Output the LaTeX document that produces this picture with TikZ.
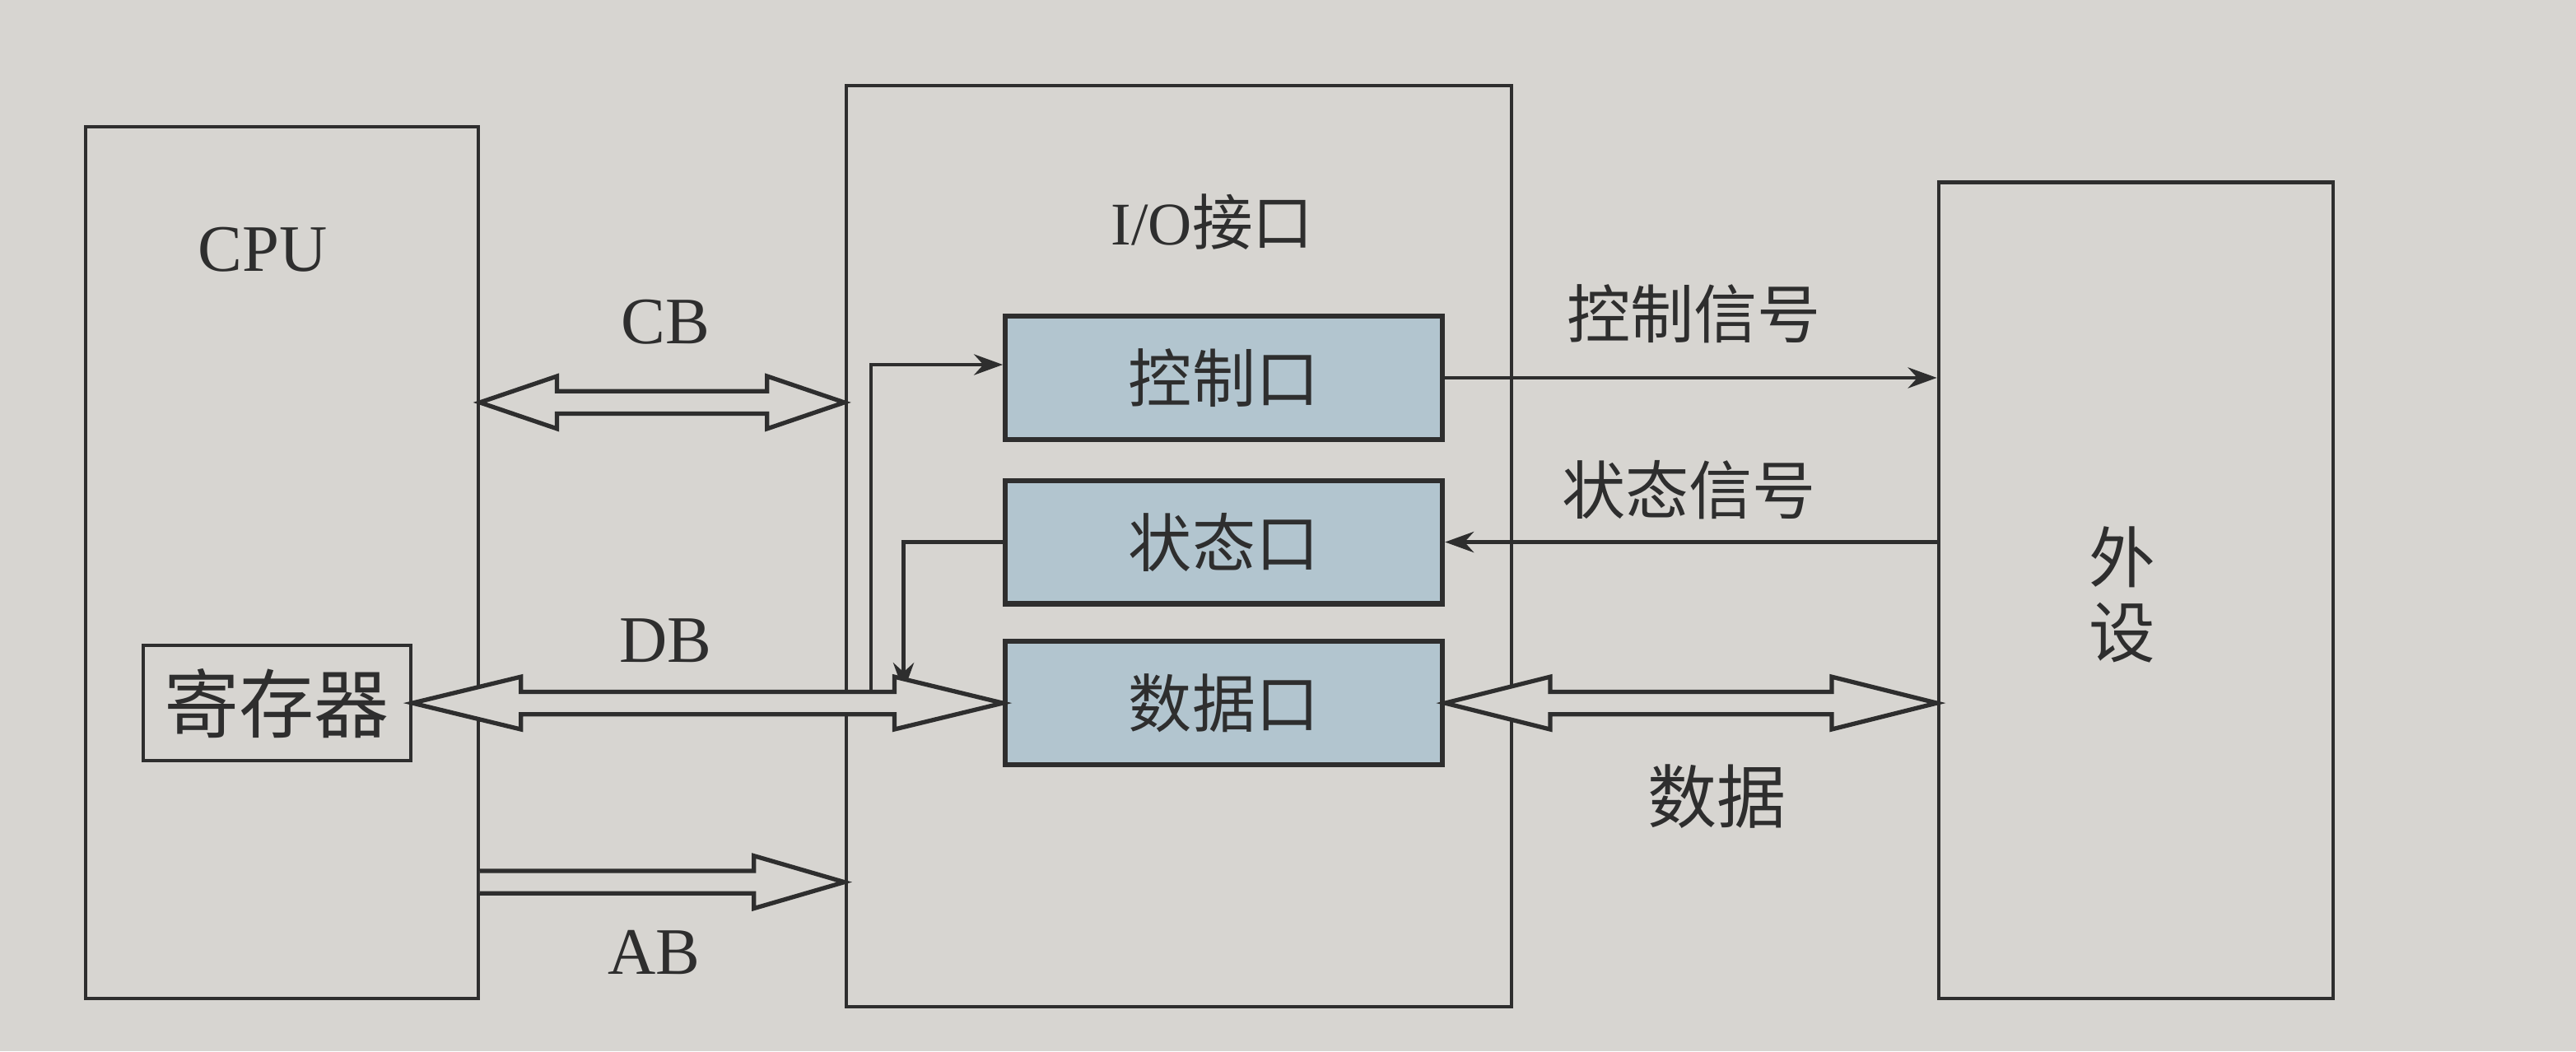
\documentclass[tikz,border=0pt]{standalone}
\usepackage{fontspec}
\setmainfont{Liberation Serif}
\newfontfamily\cjk{Noto Sans CJK SC}
\usetikzlibrary{arrows.meta, calc}
\definecolor{paper}{HTML}{D7D5D1}
\definecolor{ink}{HTML}{2E2E2E}
\definecolor{portblue}{HTML}{B2C5CF}

% hollow bus arrows: [head length], half head width, half shaft width
\newcommand{\bushead}{0.16cm}
\newcommand{\busshaft}{0.068cm}
\newcommand{\busboth}[3][0.55cm]{%
  \draw[bus] let \p1=(#2), \p2=(#3) in
    (\x1,\y1) -- (\x1+#1,\y1+\bushead) -- (\x1+#1,\y1+\busshaft)
    -- (\x2-#1,\y1+\busshaft) -- (\x2-#1,\y1+\bushead) -- (\x2,\y1)
    -- (\x2-#1,\y1-\bushead) -- (\x2-#1,\y1-\busshaft)
    -- (\x1+#1,\y1-\busshaft) -- (\x1+#1,\y1-\bushead) -- cycle;}
\newcommand{\busright}[3][0.55cm]{%
  \draw[bus] let \p1=(#2), \p2=(#3) in
    (\x1,\y1+\busshaft) -- (\x2-#1,\y1+\busshaft) -- (\x2-#1,\y1+\bushead)
    -- (\x2,\y1) -- (\x2-#1,\y1-\bushead) -- (\x2-#1,\y1-\busshaft)
    -- (\x1,\y1-\busshaft);}

\begin{document}
\begin{tikzpicture}[
  x=0.1mm, y=-0.1mm,
  frame/.style={draw=ink, fill=paper, line width=0.6pt},
  port/.style={draw=ink, fill=portblue, line width=0.9pt, minimum width=2.66cm, minimum height=0.75cm, text=ink, font=\cjk\fontsize{11}{13}\selectfont},
  lbl/.style={text=ink, font=\fontsize{11.5}{14}\selectfont},
  zh/.style={text=ink, font=\cjk\fontsize{11}{13}\selectfont},
  sig/.style={-{Stealth[length=5pt,width=3.6pt]}, line width=0.6pt, draw=ink},
  bus/.style={draw=ink, fill=paper, line width=0.75pt, line join=miter}
]
\fill[paper] (0,0) rectangle (1568,640);
\useasboundingbox (0,0) rectangle (1568,640);

% CPU side
\node[frame, minimum width=2.39cm, minimum height=5.31cm] (cpu) at (171.5,342.5) {};
\node[lbl] (cpulbl) at (160,152) {CPU};
\node[frame, minimum width=1.63cm, minimum height=0.70cm, text=ink, font=\cjk\fontsize{13}{15}\selectfont] (reg) at (168.5,428) {寄存器};

% interface
\node[frame, minimum width=4.05cm, minimum height=5.61cm] (io) at (717.5,332.5) {};
\node[lbl, font=\fontsize{10.5}{13}\selectfont] (iolbl) at (738,135) {I/O{\cjk 接口}};
\node[port] (ctrlport) at (745,230) {控制口};
\node[port] (statport) at (745,330) {状态口};
\node[port] (datport) at (745,428) {数据口};

% device
\node[frame, minimum width=2.40cm, minimum height=4.97cm] (dev) at (1300,359.5) {};
\node[zh, align=center, font=\cjk\fontsize{11.5}{13}\selectfont] (devlbl) at (1292,362) {外\\设};

% labels
\node[lbl] (cblbl) at (405,196) {CB};
\node[lbl] (dblbl) at (405,390) {DB};
\node[lbl] (ablbl) at (398,580) {AB};
\node[zh] (ctrlsig) at (1031,191) {控制信号};
\node[zh] (statsig) at (1028,298) {状态信号};
\node[zh, font=\cjk\fontsize{12}{14}\selectfont] (datlbl) at (1045,485) {数据};

\coordinate (cbrow) at (400,245);
\coordinate (abrow) at (400,537);
\coordinate (ctap) at (530,421);
\coordinate (stap) at (550,421);

% signals
\draw[sig] (ctrlport.east) -- (ctrlport.east -| dev.west);
\draw[sig] (statport.east -| dev.west) -- (statport.east);
\draw[sig] (ctap) |- ([yshift=0.08cm]ctrlport.west);
\draw[sig] (statport.west) -| (stap);

% buses
\busboth[0.47cm]{cbrow -| cpu.east}{cbrow -| io.west}
\busboth[0.66cm]{reg.east}{datport.west}
\busright{abrow -| cpu.east}{abrow -| io.west}
\busboth[0.64cm]{datport.east}{dev.west}
\end{tikzpicture}
\end{document}
